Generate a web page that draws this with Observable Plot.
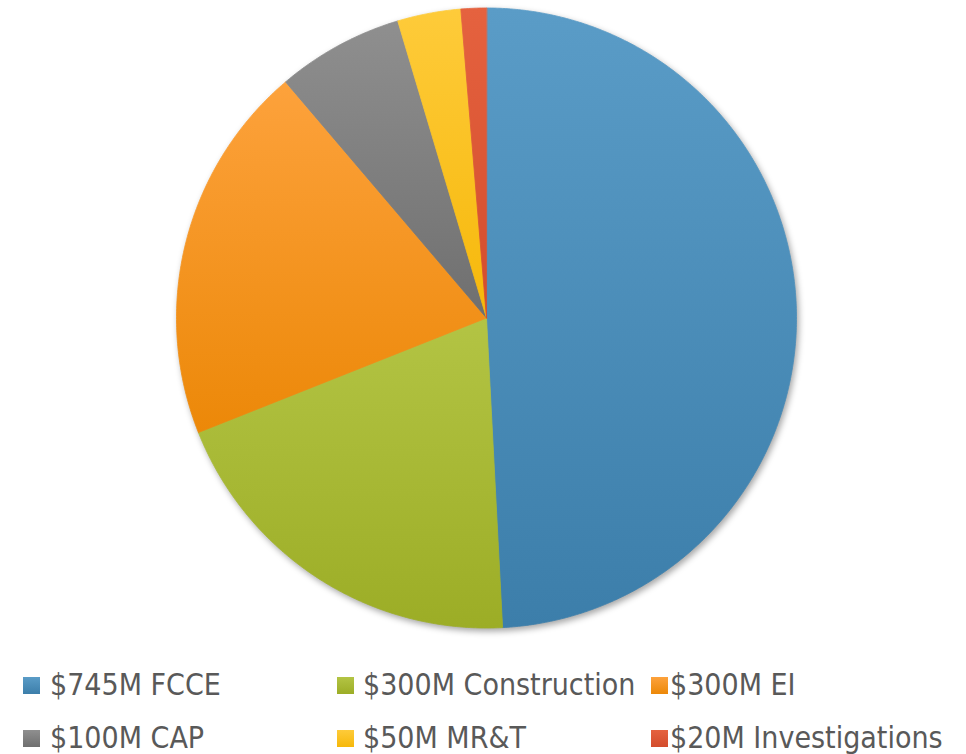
<!DOCTYPE html>
<html>
<head>
<meta charset="utf-8">
<script src="https://cdn.jsdelivr.net/npm/d3@7"></script>
<script src="https://cdn.jsdelivr.net/npm/@observablehq/plot@0.6"></script>
<style>
  html, body { margin: 0; padding: 0; background: #fff; }
  #wrap { position: relative; width: 966px; height: 754px; overflow: hidden; }
  #chart { position: absolute; left: 0; top: 0; }
  .item { position: absolute; display: flex; align-items: center; height: 30px;
          font-family: "DejaVu Sans Condensed", "DejaVu Sans", sans-serif; font-stretch: condensed;
          font-size: 30px; line-height: 30px; color: #595959; white-space: nowrap; }
  .sw { position: absolute; width: 17px; height: 17px; }
</style>
</head>
<body>
<div id="wrap"><div id="chart"></div><div id="legend"></div></div>
<script>
// ---- data ----
const labels = ["$745M FCCE", "$300M Construction", "$300M EI", "$100M CAP", "$50M MR&T", "$20M Investigations"];
const values = [745, 300, 300, 100, 50, 20];

// ---- styles (kept separate from data) ----
const topColors    = ["#5a9cc7", "#b3c444", "#fda23c", "#8f8f8f", "#fecb3a", "#e5623f"];
const bottomColors = ["#3c7eaa", "#9cad26", "#ec8808", "#6f6f6f", "#f6b80a", "#d34c2c"];
const legendCols = [23, 337, 651];
const legendTextX = [50, 363, 670];
const legendRows = [669.5, 722.5];

// slice outlines from d3.pie angles (unit circle coords, y up)
const arcs = d3.pie().sort(null).startAngle(0).endAngle(2 * Math.PI)(values);
function slicePoints(a) {
  const pts = [{x: 0, y: 0}];
  const n = Math.max(2, Math.ceil((a.endAngle - a.startAngle) / (Math.PI / 360)));
  for (let k = 0; k <= n; k++) {
    const t = a.startAngle + (a.endAngle - a.startAngle) * k / n;
    pts.push({x: Math.sin(t), y: Math.cos(t)});
  }
  return pts;
}

const W = 966, H = 648;
const svg = Plot.plot({
  width: W,
  height: H,
  marginLeft: 176,
  marginRight: 170,
  marginTop: 7.5,
  marginBottom: 20.5,
  x: {domain: [-1, 1], axis: null},
  y: {domain: [-1, 1], axis: null},
  style: {background: "transparent", overflow: "visible"},
  marks: arcs.map((a, i) =>
    Plot.line(slicePoints(a), {
      x: "x", y: "y",
      curve: "linear-closed",
      fill: `url(#grad${i})`,
      stroke: `url(#grad${i})`,
      strokeWidth: 0.8
    })
  )
});

const defs = d3.select(svg).insert("defs", ":first-child");
arcs.forEach((a, i) => {
  const g = defs.append("linearGradient")
    .attr("id", `grad${i}`)
    .attr("x1", 0).attr("y1", 0).attr("x2", 0).attr("y2", 1);
  g.append("stop").attr("offset", "0%").attr("stop-color", topColors[i]);
  g.append("stop").attr("offset", "100%").attr("stop-color", bottomColors[i]);
});
svg.style.filter = "drop-shadow(2px 3px 3px rgba(0,0,0,0.35))";
document.getElementById("chart").appendChild(svg);

// legend (3 columns x 2 rows)
const legend = document.getElementById("legend");
labels.forEach((lab, i) => {
  const col = i % 3, row = Math.floor(i / 3);
  const sw = document.createElement("div");
  sw.className = "sw";
  sw.style.left = legendCols[col] + "px";
  sw.style.top = (legendRows[row] + 7.5) + "px";
  sw.style.background = `linear-gradient(${topColors[i]}, ${bottomColors[i]})`;
  legend.appendChild(sw);
  const it = document.createElement("div");
  it.className = "item";
  it.style.left = legendTextX[col] + "px";
  it.style.top = legendRows[row] + "px";
  it.textContent = lab;
  legend.appendChild(it);
});
</script>
</body>
</html>
